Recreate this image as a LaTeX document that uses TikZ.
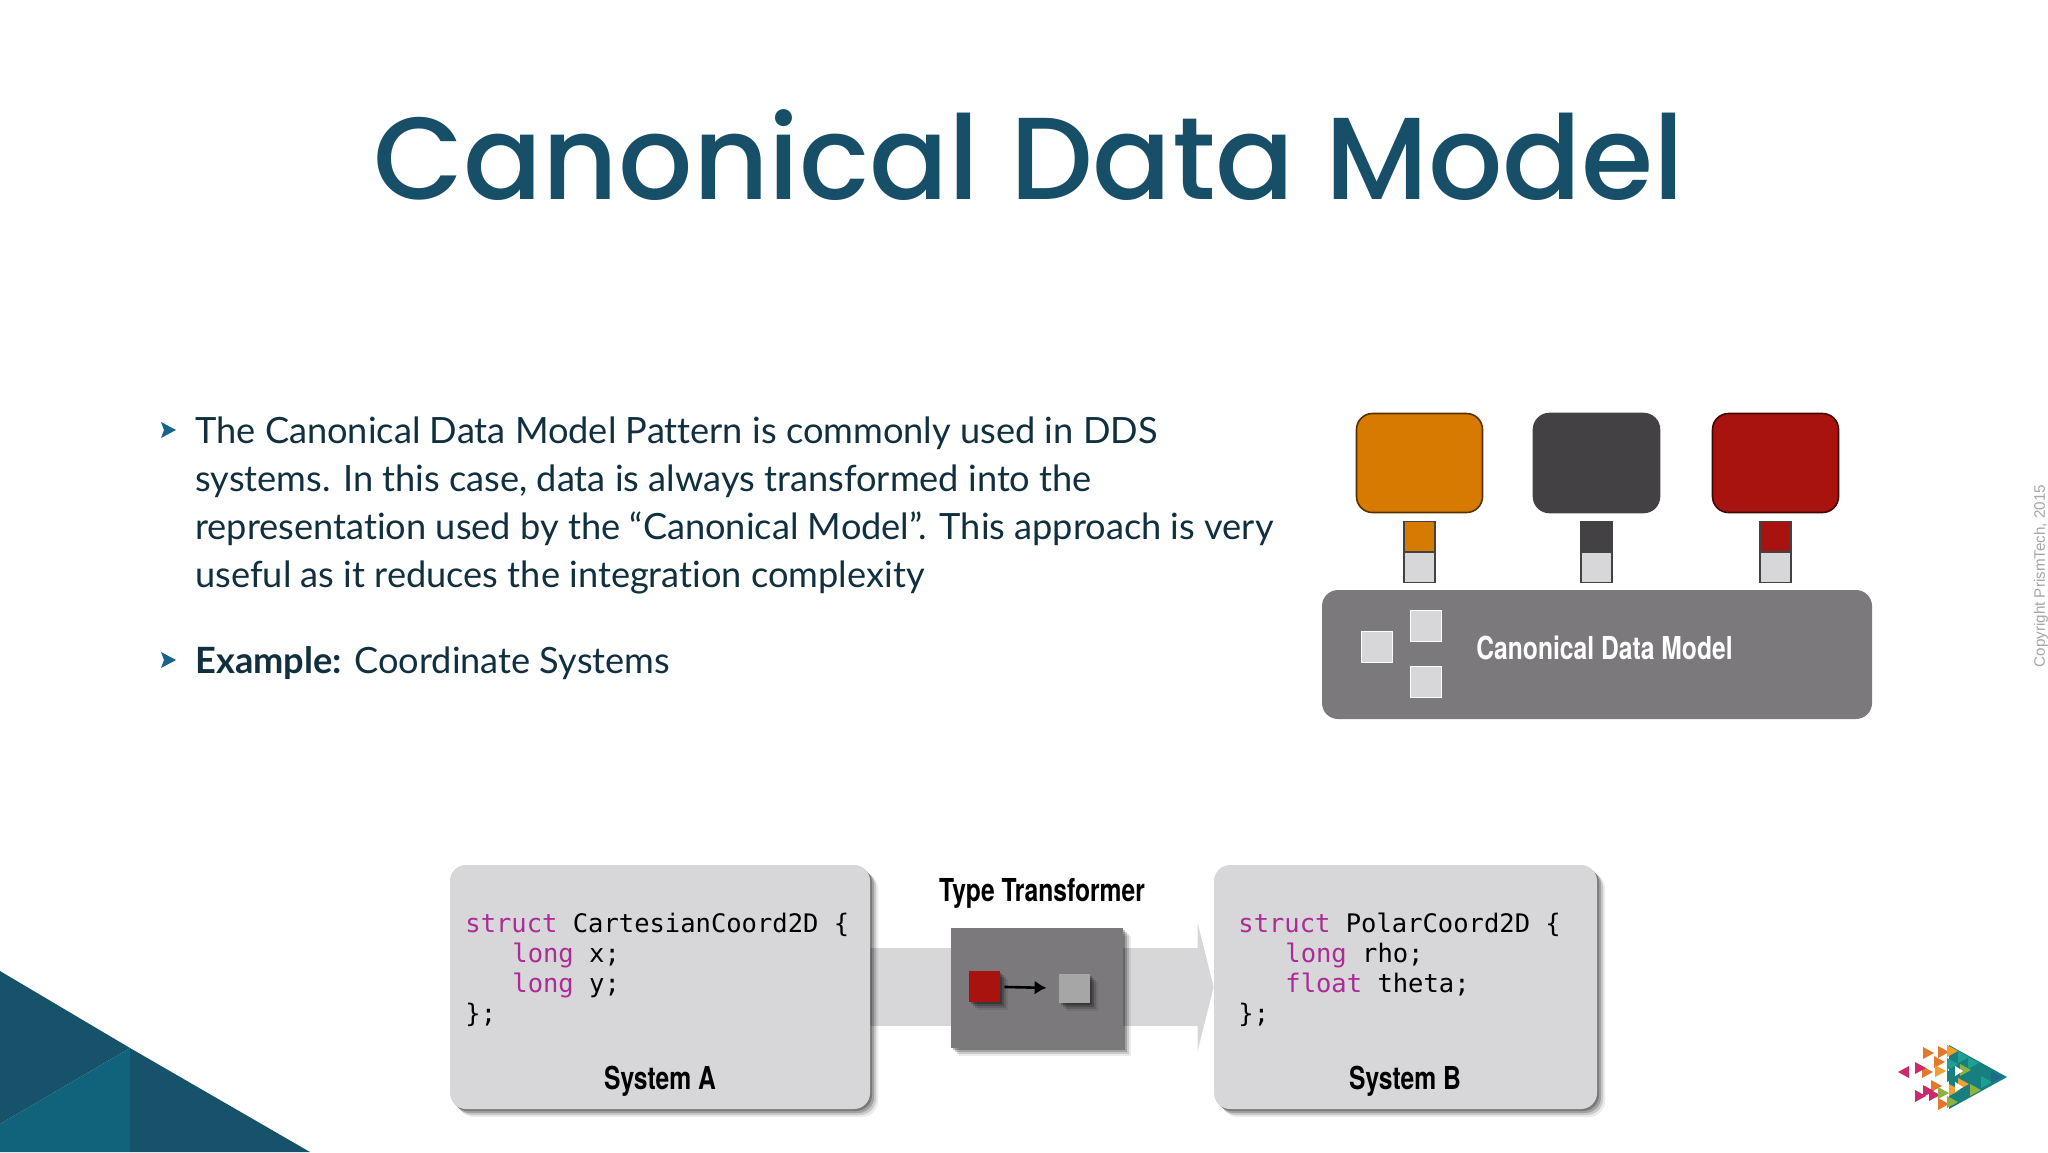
\documentclass[tikz,border=0pt]{standalone}
\usepackage{fontspec}
\usepackage{xcolor}
\usetikzlibrary{arrows.meta}
\usetikzlibrary{shadows}
\usetikzlibrary{backgrounds}
\setmainfont[Ligatures=NoCommon]{Lato}
\setmonofont{DejaVu Sans Mono}
\newfontfamily\titlefont{Poppins Medium}
\newfontfamily\heavyfont[FakeStretch=0.78]{TeX Gyre Heros}
\newfontfamily\smallfont{Liberation Sans}
\definecolor{titleblue}{HTML}{174F69}
\definecolor{bodyink}{HTML}{10303F}
\definecolor{bulletblue}{HTML}{17658A}
\definecolor{cornerdark}{HTML}{17526B}
\definecolor{cornerlight}{HTML}{10637A}
\definecolor{orangeapp}{HTML}{D67B00}
\definecolor{darkapp}{HTML}{434144}
\definecolor{redapp}{HTML}{A81310}
\definecolor{paleport}{HTML}{D7D6D9}
\definecolor{modelgray}{HTML}{7B797C}
\definecolor{keywordpink}{HTML}{AD2B97}
\definecolor{logoa}{HTML}{F0A030}
\definecolor{logob}{HTML}{E5792B}
\definecolor{logoc}{HTML}{C92B6B}
\definecolor{logod}{HTML}{8DB23F}
\definecolor{logoe}{HTML}{1F9E92}
\definecolor{logof}{HTML}{177F80}
\definecolor{logog}{HTML}{1F6A8C}
\tikzset{
    appbox/.style={draw=#1!40!black,line width=.8pt,fill=#1,rounded corners=8pt,inner sep=0pt,minimum width=63pt,minimum height=49.5pt},
    portup/.style={draw=darkapp,line width=.8pt,fill=#1,inner sep=0pt,minimum width=15.5pt,minimum height=15pt},
    portdown/.style={draw=darkapp,line width=.8pt,fill=paleport,inner sep=0pt,minimum width=15.5pt,minimum height=15pt},
    modelport/.style={draw=white,line width=.8pt,fill=paleport,inner sep=0pt,minimum width=15.5pt,minimum height=15.5pt},
    softshadow/.style={general shadow={shadow xshift=4pt,shadow yshift=-4pt,fill=black,opacity=.08},general shadow={shadow xshift=3pt,shadow yshift=-3pt,fill=black,opacity=.14},general shadow={shadow xshift=2pt,shadow yshift=-2pt,fill=black,opacity=.2},general shadow={shadow xshift=1pt,shadow yshift=-1pt,fill=black,opacity=.25}},
    sysbox/.style={fill=paleport,rounded corners=8pt,inner sep=0pt,minimum width=#1,minimum height=122pt,softshadow},
    headlabel/.style={font=\heavyfont\bfseries\fontsize{15.8}{18}\selectfont,inner sep=0pt},
    codeblock/.style={font=\ttfamily\fontsize{12.75}{15}\selectfont,align=left,anchor=north west,inner sep=0pt},
    bulletmark/.style={fill=bulletblue}
}
\newcommand{\kw}[1]{\textcolor{keywordpink}{#1}}
\newcommand{\tab}{\hspace*{23.5pt}}
\begin{document}
\begin{tikzpicture}[x=.5pt,y=-.5pt]
    \useasboundingbox (0,0) rectangle (2048,1152);

    % corner
    \fill[cornerdark] (0,971) -- (130,1048) -- (0,1124) -- cycle;
    \fill[cornerlight] (0,1124) -- (130,1048) -- (130,1152) -- (0,1152) -- cycle;
    \fill[cornerdark] (130,1048) -- (310,1152) -- (130,1152) -- cycle;

    % title and text
    \node (title) [anchor=base,inner sep=0pt,text=titleblue,font=\titlefont\fontsize{58.4}{70}\selectfont] at (1029,199) {Canonical Data Model};
    \fill[bulletmark] (161,422) -- (176,430) -- (161,438) -- (164,430) -- cycle;
    \fill[bulletmark] (161,652) -- (176,660) -- (161,668) -- (164,660) -- cycle;
    \node (intro) [anchor=base west,inner sep=0pt,align=left,text=bodyink,font=\fontsize{18.1}{24}\selectfont] at (195,587) {The Canonical Data Model Pattern is commonly used in DDS\\systems. In this case, data is always transformed into the\\representation used by the “Canonical Model”. This approach is very\\useful as it reduces the integration complexity};
    \node (example) [anchor=base west,inner sep=0pt,text=bodyink,font=\fontsize{18.1}{24}\selectfont] at (195,673) {\textbf{Example:} Coordinate Systems};

    % model
    \node (model) [fill=modelgray,rounded corners=8pt,inner sep=0pt,minimum width=275pt,minimum height=64.5pt] at (1597,654.5) {};
    \node (modellabel) [headlabel,text=white,anchor=west] at (1476,648) {Canonical Data Model};
    \node (porta) [modelport] at (1377,647) {};
    \node (portb) [modelport] at (1426,626) {};
    \node (portc) [modelport] at (1426,682) {};

    \node (orange) [appbox=orangeapp] at (1419.5,463) {};
    \node (dark) [appbox=darkapp,draw=darkapp] at (1596.5,463) {};
    \node (red) [appbox=redapp] at (1775.5,463) {};
    \node (orangeup) [portup=orangeapp] at (1419.5,536.5) {};
    \node (orangedown) [portdown] at (1419.5,567.5) {};
    \node (darkup) [portup=darkapp] at (1596.5,536.5) {};
    \node (darkdown) [portdown] at (1596.5,567.5) {};
    \node (redup) [portup=redapp] at (1775.5,536.5) {};
    \node (reddown) [portdown] at (1775.5,567.5) {};

    \node (copyright) [rotate=90,inner sep=0pt,text=black!35,font=\smallfont\fontsize{7.6}{9}\selectfont] at (2041,576) {Copyright PrismTech, 2015};

    % systems
    \node (sysa) [sysbox=210pt] at (660,987) {};
    \node (sysb) [sysbox=191.5pt] at (1405.5,987) {};
    \begin{pgfonlayer}{background}
        \draw[paleport,line width=39pt,-{Triangle[length=8pt,width=64pt]}] (sysa.east) -- (sysb.west);
    \end{pgfonlayer}
    \node (transformer) [fill=modelgray,inner sep=0pt,minimum width=86pt,minimum height=60pt,softshadow] at (1037,988) {};
    \node (transformerlabel) [headlabel,text=black] at (1042,893) {Type Transformer};
    \node (redbit) [fill=redapp,inner sep=0pt,minimum width=15.5pt,minimum height=15.5pt,softshadow] at (984.5,986.5) {};
    \node (graybit) [fill=black!35,inner sep=0pt,minimum width=15.5pt,minimum height=14.5pt,softshadow] at (1074.5,988.5) {};
    \draw[-{Latex[length=6pt,width=7pt]},line width=1.3pt,shorten <=2pt,shorten >=6pt] (redbit) -- (graybit);

    \node (codea) [codeblock] at (465,913) {\kw{struct} CartesianCoord2D \{\\\tab\kw{long} x;\\\tab\kw{long} y;\\\};};
    \node (codeb) [codeblock] at (1238,913) {\kw{struct} PolarCoord2D \{\\\tab\kw{long} rho;\\\tab\kw{float} theta;\\\};};
    \node (labela) [headlabel,text=black] at (660,1081) {System A};
    \node (labelb) [headlabel,text=black] at (1405,1081) {System B};

    % logo
    \fill[logof] (1949,1045) -- (2007,1077) -- (1949,1109) -- cycle;
    \foreach \x/\y/\c in {1928/1053/logob,1943/1052/logob,1939/1062/logob,1927/1072/logob,1940/1071/logoa,1936/1086/logob,1920/1068/logoc,1920/1096/logoc,1928/1091/logoc,1934/1095/logoc,1943/1093/logod,1943/1104/logob,1952/1051/logoa,1952/1064/logoe,1952/1076/logof,1954/1090/logoa,1952/1102/logod,1963/1057/logoe,1965/1070/logod,1963/1084/logoa,1963/1096/logof,1973/1063/logoe,1975/1076/logof,1975/1090/logod,1985/1070/logof,1986/1082/logoe,1996/1077/logog}{
        \fill[\c] (\x,\y) ++(-5,-6) -- ++(11,6) -- ++(-11,6) -- cycle;
    }
    \fill[logoc] (1904,1072) ++(5,-6) -- ++(-11,6) -- ++(11,6) -- cycle;
    \fill[white] (1955,1066) -- (1963,1071) -- (1955,1076) -- cycle;
    \fill[white] (1955,1082) -- (1963,1087) -- (1955,1092) -- cycle;
\end{tikzpicture}
\end{document}
